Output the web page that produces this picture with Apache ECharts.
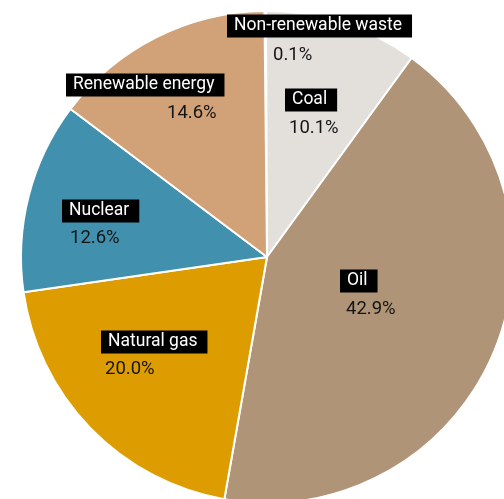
<!DOCTYPE html>
<html>
<head>
<meta charset="utf-8">
<script src="https://cdn.jsdelivr.net/npm/echarts@6/dist/echarts.min.js"></script>
<style>html,body{margin:0;padding:0;background:#fff;}#c{width:504px;height:499px;}</style>
</head>
<body>
<div id="c"></div>
<script>
// ---- data ----
const categories = ['Non-renewable waste', 'Coal', 'Oil', 'Natural gas', 'Nuclear', 'Renewable energy'];
const shares = [0.1, 10.1, 42.9, 20.0, 12.6, 14.6];

// ---- style ----
const colors = ['#d8402a', '#e3e0dc', '#b09477', '#dd9c00', '#4190ad', '#d1a177'];
const CX = 267, CY = 257, R = 246;
// label offsets relative to pie centre: name box (left, middle), value text (left, middle)
const nameOff = [[-40, -231], [18, -157], [73, 24], [-166, 85], [-205, -46], [-201, -172]];
const valOff = [[6, -202], [22, -129], [79, 52], [-162, 112], [-197, -19], [-100, -144]];
const FONT = 'Roboto';

const chart = echarts.init(document.getElementById('c'));
const data = categories.map((n, i) => ({ name: n, value: shares[i], itemStyle: { color: colors[i] } }));

function base(extra) {
  return Object.assign({
    type: 'pie',
    center: [CX, CY],
    radius: [0, R],
    startAngle: 90.6,
    clockwise: true,
    animation: false,
    data: data,
    labelLine: { show: false },
  }, extra);
}

chart.setOption({
  backgroundColor: '#fff',
  series: [
    base({
      itemStyle: { borderColor: '#fff', borderWidth: 2 },
      label: {
        show: true, position: 'inside', formatter: '{b}',
        color: '#fff', backgroundColor: '#000', fontFamily: FONT, fontSize: 17.5,
        padding: [3, 10, 2, 7], lineHeight: 18
      },
      labelLayout: p => ({ x: CX + nameOff[p.dataIndex][0], y: CY + nameOff[p.dataIndex][1], align: 'left', verticalAlign: 'middle' })
    }),
    base({
      silent: true,
      itemStyle: { color: 'rgba(0,0,0,0)', borderWidth: 0 },
      data: data.map(d => ({ name: d.name, value: d.value, itemStyle: { color: 'rgba(0,0,0,0)' } })),
      label: {
        show: true, position: 'inside',
        formatter: p => p.value.toFixed(1) + '%',
        color: '#141414', fontFamily: FONT, fontSize: 18.5
      },
      labelLayout: p => ({ x: CX + valOff[p.dataIndex][0], y: CY + valOff[p.dataIndex][1], align: 'left', verticalAlign: 'middle' })
    })
  ]
});
</script>
</body>
</html>
